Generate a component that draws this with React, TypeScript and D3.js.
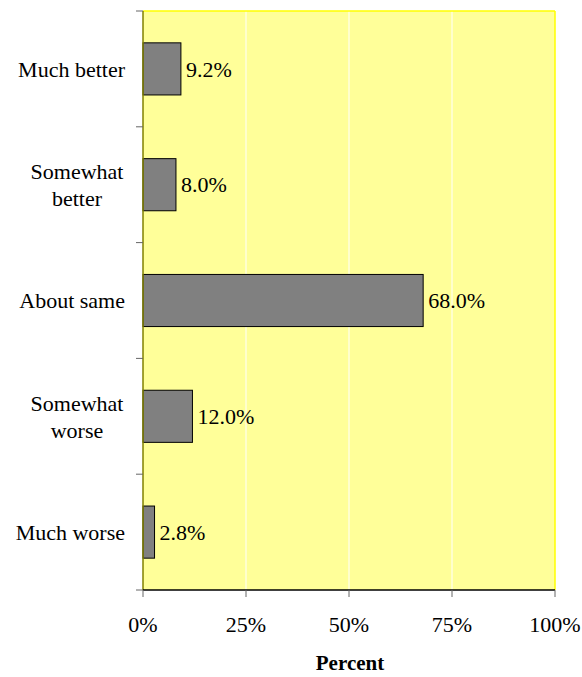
import React from 'react';
import * as d3 from 'd3';

const categories = [['Much better'], ['Somewhat', 'better'], ['About same'], ['Somewhat', 'worse'], ['Much worse']];
const values = [9.2, 8.0, 68.0, 12.0, 2.8];
const xTicks = [0, 25, 50, 75, 100];

const width = 582;
const height = 677;

const left = 143, right = 555, top = 11, bottom = 590;
const font = 'Liberation Serif';
const fs = 22;

const App: React.FC = () => {
  const x = d3.scaleLinear().domain([0, 100]).range([left, right]);
  const y = d3.scaleBand<number>()
    .domain(d3.range(categories.length))
    .range([top, bottom])
    .paddingInner(0.55)
    .paddingOuter(0.275);
  const step = (bottom - top) / categories.length;

  return (
    <svg width={width} height={height}
      style={{ position: 'absolute', left: 0, top: 0, background: '#fff' }}>
      {/* plot background */}
      <rect x={left} y={top} width={right - left} height={bottom - top} fill="#FFFF99" />
      {xTicks.slice(1, -1).map(t => (
        <line key={'g' + t} x1={x(t)} x2={x(t)} y1={top} y2={bottom} stroke="#fff" strokeWidth={1} />
      ))}
      <line x1={left} x2={right} y1={top} y2={top} stroke="#FFFF00" strokeWidth={1.5} />
      <line x1={right} x2={right} y1={top} y2={bottom} stroke="#FFFF00" strokeWidth={1.5} />

      {/* bars */}
      {values.map((v, i) => (
        <rect key={'b' + i} x={x(0)} y={y(i)} width={x(v) - x(0)} height={y.bandwidth()}
          fill="#808080" stroke="#000" strokeWidth={1} />
      ))}
      {values.map((v, i) => (
        <text key={'v' + i} x={x(v) + 5} y={y(i)! + y.bandwidth() / 2} dy="0.35em"
          fontFamily={font} fontSize={fs} fill="#000">
          {v.toFixed(1) + '%'}
        </text>
      ))}

      {/* left axis */}
      <line x1={left} x2={left} y1={top} y2={bottom} stroke="#808000" strokeWidth={1.5} />
      {d3.range(categories.length + 1).map(i => (
        <line key={'lt' + i} x1={left - 7} x2={left} y1={top + i * step} y2={top + i * step}
          stroke="#666" strokeWidth={1} />
      ))}
      {categories.map((lines, i) => {
        const cy = y(i)! + y.bandwidth() / 2;
        return lines.map((ln, j) => (
          <text key={'c' + i + '_' + j} fontFamily={font} fontSize={fs} fill="#000"
            x={lines.length === 1 ? left - 18 : 77}
            textAnchor={lines.length === 1 ? 'end' : 'middle'}
            y={cy + (j - (lines.length - 1) / 2) * 27}
            dy="0.35em">{ln}</text>
        ));
      })}

      {/* bottom axis */}
      <line x1={left} x2={right} y1={bottom} y2={bottom} stroke="#000" strokeWidth={1.5} />
      {xTicks.map(t => (
        <g key={'xt' + t}>
          <line x1={x(t)} x2={x(t)} y1={bottom} y2={bottom + 7} stroke="#666" strokeWidth={1} />
          <text x={x(t)} y={632} textAnchor="middle" fontFamily={font} fontSize={fs}>
            {t + '%'}
          </text>
        </g>
      ))}
      <text x={350} y={670} textAnchor="middle" fontFamily={font} fontSize={21}
        fontWeight="bold">Percent</text>
    </svg>
  );
};

export default App;
